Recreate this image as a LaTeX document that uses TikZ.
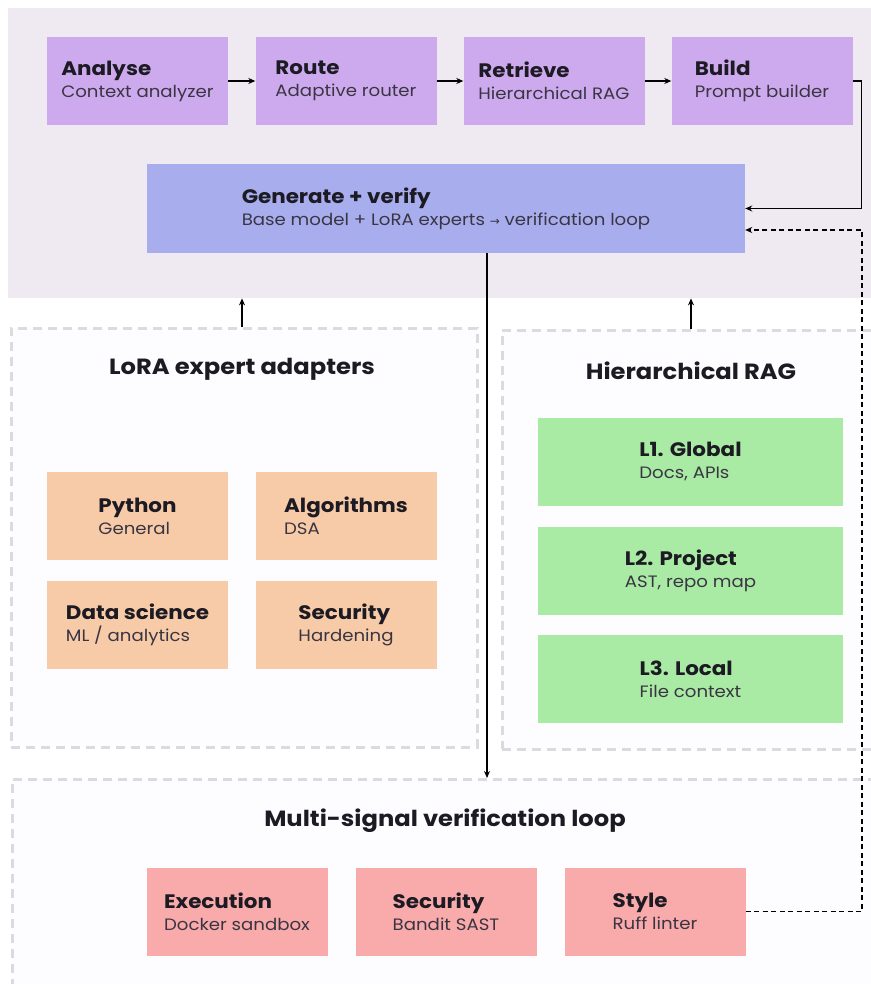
\documentclass[tikz,border=0pt]{standalone}
\usepackage{fontspec}
\setmainfont{Poppins}[FakeStretch=1.1]
\newfontfamily\symf{DejaVu Sans}
\usetikzlibrary{arrows.meta,calc}
\definecolor{topbg}{HTML}{EFEAF2}
\definecolor{purp}{HTML}{CDAAEE}
\definecolor{blu}{HTML}{A8ADEE}
\definecolor{orng}{HTML}{F7CBA7}
\definecolor{grn}{HTML}{A9EBA4}
\definecolor{pnk}{HTML}{F9AAAA}
\definecolor{pgray}{HTML}{DCD9DF}
\definecolor{pfill}{HTML}{FDFCFE}
\definecolor{ttl}{HTML}{1C1A22}
\definecolor{sub}{HTML}{3A3542}
\newcommand{\twol}[2]{{\fontsize{19.5}{22}\selectfont\bfseries\color{ttl}#1}\\{\fontsize{16.5}{22}\selectfont\color{sub}#2}}
\tikzset{
  card/.style={inner sep=0pt, minimum width=181pt, minimum height=88pt, align=left, anchor=center, font=\fontsize{16.5}{22}\selectfont},
  pcard/.style={card, fill=purp},
  ocard/.style={card, fill=orng},
  gcard/.style={card, fill=grn, minimum width=305pt},
  rcard/.style={card, fill=pnk},
  panel/.style={draw=pgray, line width=2.5pt, dash pattern=on 9pt off 6pt, fill=pfill, inner sep=0pt, anchor=north west},
  ptitle/.style={font=\fontsize{22}{26}\selectfont\bfseries, text=ttl, inner sep=0pt},
  arr/.style={line width=1.1pt, -{Stealth[length=7pt,width=6pt]}, draw=black},
  dsh/.style={dash pattern=on 5pt off 3.5pt}
}
\begin{document}
\begin{tikzpicture}[x=1pt,y=-1pt]
\useasboundingbox (0,0) rectangle (870,984);
% top panel
\node[fill=topbg, inner sep=0pt, minimum width=872pt, minimum height=290pt, anchor=north west] (top) at (8,8) {};
% lower panels
\node[panel, minimum width=466pt, minimum height=419pt] (lora) at (10,327) {};
\node[panel, minimum width=380pt, minimum height=419pt] (rag) at (501,329) {};
\node[panel, minimum width=880pt, minimum height=230pt] (ver) at (11,778) {};
% top row
\node[pcard] (analyse) at (137.5,81) {\twol{Analyse}{Context analyzer}};
\node[pcard] (route) at (346,81) {\twol{Route}{Adaptive router}};
\node[pcard] (retrieve) at (554,81) {\twol{Retrieve}{Hierarchical RAG}};
\node[pcard] (build) at (762,81) {\twol{Build}{Prompt builder}};
\node[card, fill=blu, minimum width=598pt, minimum height=89pt] (gen) at (446,208.5) {\twol{Generate + verify}{Base model + LoRA experts {\symf\fontsize{12}{12}\selectfont →} verification loop}};
% panel titles
\node[ptitle] (loratitle) at (242,369) {LoRA expert adapters};
\node[ptitle] (ragtitle) at (691,371) {Hierarchical RAG};
\node[ptitle] (vertitle) at (445,821) {Multi-signal verification loop};
% lora cards
\node[ocard] (python) at (137.5,516) {\twol{Python}{General}};
\node[ocard] (algo) at (346,516) {\twol{Algorithms}{DSA}};
\node[ocard] (ds) at (137.5,625) {\twol{Data science}{ML / analytics}};
\node[ocard] (sec) at (346,625) {\twol{Security}{Hardening}};
% rag cards
\node[gcard] (l1) at (690.5,461.5) {\twol{L1. Global}{Docs, APIs}};
\node[gcard] (l2) at (690.5,570.5) {\twol{L2. Project}{AST, repo map}};
\node[gcard] (l3) at (690.5,679) {\twol{L3. Local}{File context}};
% verification cards
\node[rcard] (exec) at (237,911.5) {\twol{Execution}{Docker sandbox}};
\node[rcard] (bandit) at (446,911.5) {\twol{Security}{Bandit SAST}};
\node[rcard] (style) at (655,911.5) {\twol{Style}{Ruff linter}};
% connectors
\draw[arr] (analyse) -- (route);
\draw[arr] (route) -- (retrieve);
\draw[arr] (retrieve) -- (build);
\draw[arr] (build.east) -- ++(9,0) |- (gen.east);
\coordinate (fb) at (862,230);
\draw[arr, dsh] (style.east) -| (fb) -- (gen.east |- fb);
\coordinate (la) at (242,327);
\coordinate (ra) at (691,329);
\draw[arr] (la) -- (la |- top.south);
\draw[arr] (ra) -- (ra |- top.south);
\coordinate (vx) at (487,0);
\draw[arr] (vx |- gen.south) -- (vx |- ver.north);
\end{tikzpicture}
\end{document}
